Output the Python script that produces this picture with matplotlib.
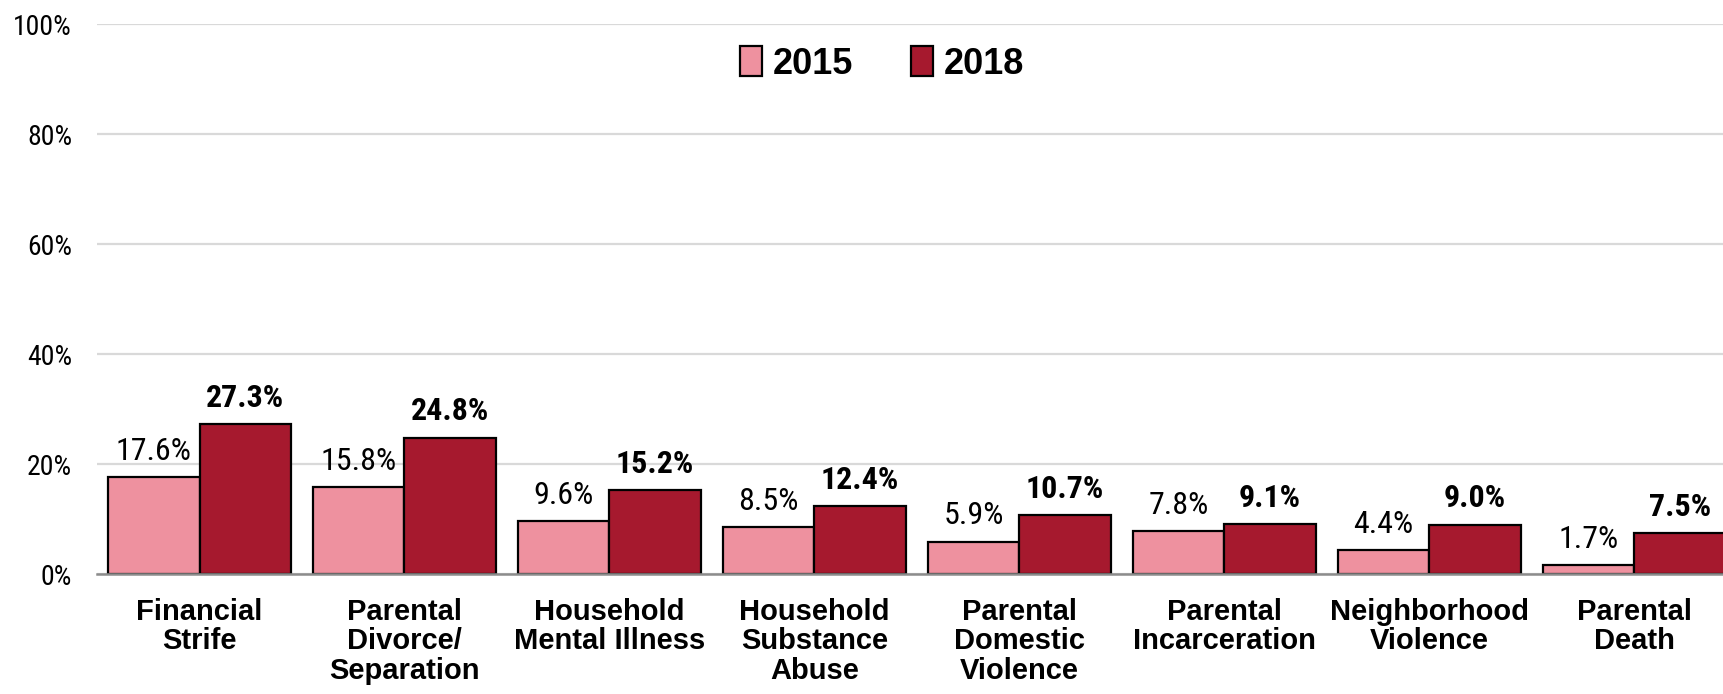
import matplotlib
matplotlib.use("Agg")
import matplotlib.pyplot as plt
import numpy as np
from matplotlib.ticker import FuncFormatter

# -----------------------
# Data
# -----------------------
categories = ["Financial\nStrife", "Parental\nDivorce/\nSeparation", "Household\nMental Illness",
              "Household\nSubstance\nAbuse", "Parental\nDomestic\nViolence", "Parental\nIncarceration",
              "Neighborhood\nViolence", "Parental\nDeath"]
vals_2015 = [17.6, 15.8, 9.6, 8.5, 5.9, 7.8, 4.4, 1.7]
vals_2018 = [27.3, 24.8, 15.2, 12.4, 10.7, 9.1, 9.0, 7.5]
series_names = ["2015", "2018"]
y_ticks = [0, 20, 40, 60, 80, 100]

# -----------------------
# Style
# -----------------------
C_2015 = "#EE919F"
C_2018 = "#A6192E"
NARROW = ["Roboto Condensed", "DejaVu Sans"]
WIDE = ["Liberation Sans", "DejaVu Sans"]
W = 0.446

fig = plt.figure(figsize=(17.24, 6.94), dpi=100)
ax = fig.add_axes([0.0563, 0.1729, 0.951, 0.7925])

x = np.arange(len(categories))
b1 = ax.bar(x - W / 2, vals_2015, W, color=C_2015, edgecolor="black", linewidth=1.6,
            label=series_names[0], zorder=3)
b2 = ax.bar(x + W / 2, vals_2018, W, color=C_2018, edgecolor="black", linewidth=1.6,
            label=series_names[1], zorder=3)

ax.bar_label(b1, labels=[f"{v:.1f}%" for v in vals_2015], padding=8,
             fontsize=23, family=NARROW)
ax.bar_label(b2, labels=[f"{v:.1f}%" for v in vals_2018], padding=8,
             fontsize=23, family=NARROW, fontweight="bold")

ax.set_xlim(-0.5, len(categories) - 0.5)
ax.set_ylim(0, 100)
ax.set_yticks(y_ticks)
ax.yaxis.set_major_formatter(FuncFormatter(lambda v, _: f"{v:.0f}%"))
ax.set_xticks(x)
ax.set_xticklabels(categories, fontsize=21, fontweight="bold", family=WIDE,
                   linespacing=1.08, va="top")
for lab in ax.get_yticklabels():
    lab.set_family(NARROW)
    lab.set_fontsize(20)
ax.tick_params(axis="both", length=0)
ax.tick_params(axis="y", pad=18)
ax.tick_params(axis="x", pad=17)

ax.grid(axis="y", color="#D9D9D9", linewidth=1.6, zorder=0)
ax.set_axisbelow(True)
for s in ["top", "right", "left"]:
    ax.spines[s].set_visible(False)
ax.spines["bottom"].set_color("#8C8C8C")
ax.spines["bottom"].set_linewidth(1.8)
ax.spines["bottom"].set_zorder(4)

leg = ax.legend(loc="center", bbox_to_anchor=(882 / 1724, (694 - 64) / 694),
                bbox_transform=fig.transFigure, ncol=2, frameon=False,
                prop={"family": WIDE, "weight": "bold", "size": 26},
                handlelength=0.6, handleheight=0.9, handletextpad=0.3, columnspacing=1.6)

fig.savefig("out.png", dpi=100)
